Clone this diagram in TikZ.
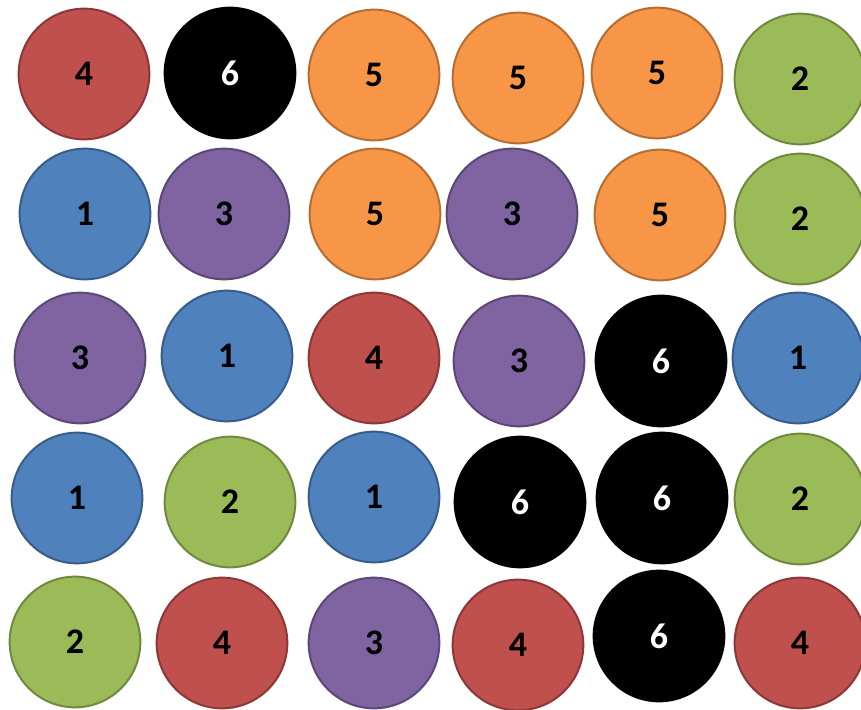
\documentclass[tikz,border=0pt]{standalone}
\usepackage{fontspec}
\setmainfont{Carlito}
\usepackage{tikz}
\definecolor{redfill}{HTML}{C0504D}
\definecolor{redline}{HTML}{8C3836}
\definecolor{orangefill}{HTML}{F79646}
\definecolor{orangeline}{HTML}{B66D31}
\definecolor{greenfill}{HTML}{9BBB59}
\definecolor{greenline}{HTML}{71893F}
\definecolor{bluefill}{HTML}{4F81BD}
\definecolor{blueline}{HTML}{385D8A}
\definecolor{purplefill}{HTML}{8064A2}
\definecolor{purpleline}{HTML}{5C4776}
\tikzset{
  ball/.style={circle, minimum size=98pt, inner sep=0pt, line width=1.5pt,
    font=\fontsize{27}{32}\selectfont\bfseries},
  red/.style={ball, fill=redfill, draw=redline},
  black/.style={ball, fill=black, draw=black, text=white},
  orange/.style={ball, fill=orangefill, draw=orangeline},
  green/.style={ball, fill=greenfill, draw=greenline},
  blue/.style={ball, fill=bluefill, draw=blueline},
  purple/.style={ball, fill=purplefill, draw=purpleline}
}
\begin{document}
\begin{tikzpicture}[x=0.75pt, y=-0.75pt]
  \useasboundingbox[fill=white] (0,0) rectangle (861,710);
  % row 1
  \node[red]    (a1) at (84,74)  {4};
  \node[black]  (a2) at (230,73) {6};
  \node[orange] (a3) at (374,75) {5};
  \node[orange] (a4) at (518,78) {5};
  \node[orange] (a5) at (657,73) {5};
  \node[green]  (a6) at (800,79) {2};
  % row 2
  \node[blue]   (b1) at (85,214)  {1};
  \node[purple] (b2) at (224,214) {3};
  \node[orange] (b3) at (375,214) {5};
  \node[purple] (b4) at (512,214) {3};
  \node[orange] (b5) at (660,215) {5};
  \node[green]  (b6) at (800,219) {2};
  % row 3
  \node[purple] (c1) at (80,358)  {3};
  \node[blue]   (c2) at (227,356) {1};
  \node[red]    (c3) at (374,358) {4};
  \node[purple] (c4) at (519,361) {3};
  \node[black]  (c5) at (661,361) {6};
  \node[blue]   (c6) at (798,358) {1};
  % row 4
  \node[blue]   (d1) at (77,498)  {1};
  \node[green]  (d2) at (230,502) {2};
  \node[blue]   (d3) at (374,497) {1};
  \node[black]  (d4) at (520,502) {6};
  \node[black]  (d5) at (662,498) {6};
  \node[green]  (d6) at (800,499) {2};
  % row 5
  \node[green]  (e1) at (75,642)  {2};
  \node[red]    (e2) at (222,643) {4};
  \node[purple] (e3) at (374,643) {3};
  \node[red]    (e4) at (518,645) {4};
  \node[black]  (e5) at (659,636) {6};
  \node[red]    (e6) at (800,643) {4};
\end{tikzpicture}
\end{document}
